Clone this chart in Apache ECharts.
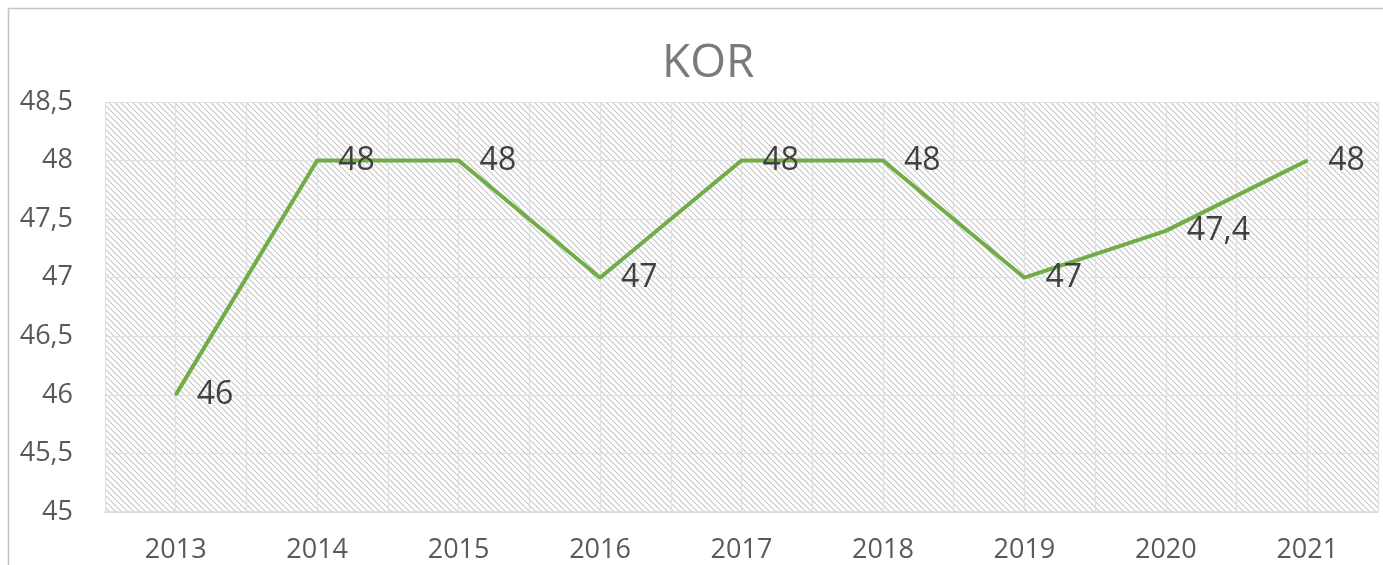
<!DOCTYPE html>
<html>
<head>
<meta charset="utf-8">
<script src="https://cdn.jsdelivr.net/npm/echarts@6/dist/echarts.min.js"></script>
<style>
  html, body { margin: 0; padding: 0; background: #fff; }
  #chart { width: 1383px; height: 565px; }
</style>
</head>
<body>
<div id="chart"></div>
<script>
var years = ['2013', '2014', '2015', '2016', '2017', '2018', '2019', '2020', '2021'];
var korValues = [46, 48, 48, 47, 48, 48, 47, 47.4, 48];
var yTicks = [45, 45.5, 46, 46.5, 47, 47.5, 48, 48.5];

var chart = echarts.init(document.getElementById('chart'));

// diagonal hatch for the plot area
var makeHatch = function () {
	var c = document.createElement('canvas');
	c.width = 6; c.height = 6;
	var ctx = c.getContext('2d');
	ctx.fillStyle = '#ffffff';
	ctx.fillRect(0, 0, 6, 6);
	ctx.strokeStyle = '#c6c6c6';
	ctx.lineWidth = 1.1;
	ctx.beginPath();
	ctx.moveTo(-1, -1); ctx.lineTo(7, 7);
	ctx.moveTo(-1, 5); ctx.lineTo(1, 7);
	ctx.moveTo(5, -1); ctx.lineTo(7, 1);
	ctx.stroke();
	return c;
};

var comma = function (v) { return String(v).replace('.', ','); };

var option = {
	animation: false,
	backgroundColor: '#ffffff',
	title: {
		text: 'KOR',
		left: 657,
		top: 36,
		textStyle: {
			fontFamily: 'Open Sans',
			fontSize: 46,
			fontWeight: 'normal',
			color: '#7a7a7a'
		}
	},
	graphic: [
		{
			type: 'rect',
			shape: { x: 8.5, y: 8.5, width: 1400, height: 600 },
			style: { fill: 'none', stroke: '#c4c4c4', lineWidth: 1.5 },
			silent: true
		}
	],
	grid: {
		left: 105,
		right: 5,
		top: 102,
		bottom: 53,
		show: true,
		borderWidth: 0,
		backgroundColor: { image: makeHatch(), repeat: 'repeat' }
	},
	xAxis: [
		{
			type: 'category',
			data: years,
			boundaryGap: true,
			axisLine: { show: true, lineStyle: { color: '#d9d9d9', width: 1.5 } },
			axisTick: { show: false },
			splitLine: { show: false },
			axisLabel: {
				margin: 25,
				fontFamily: 'Open Sans',
				fontSize: 27,
				color: '#595959'
			}
		},
		{
			type: 'value',
			min: 0,
			max: years.length * 2,
			interval: 1,
			position: 'bottom',
			show: true,
			axisLine: { show: false },
			axisTick: { show: false },
			axisLabel: { show: false },
			splitLine: { show: true, lineStyle: { color: '#e0e0e0', width: 1.2 } }
		}
	],
	yAxis: {
		type: 'value',
		min: 45,
		max: 48.5,
		interval: 0.5,
		axisLine: { show: false },
		axisTick: { show: false },
		splitLine: { show: true, lineStyle: { color: '#e0e0e0', width: 1.2 } },
		axisLabel: {
			margin: 32,
			fontFamily: 'Open Sans',
			fontSize: 27,
			color: '#595959',
			customValues: yTicks,
			formatter: function (v) { return comma(v); }
		}
	},
	series: [
		{
			name: 'KOR',
			type: 'line',
			xAxisIndex: 0,
			data: korValues,
			symbol: 'circle',
			symbolSize: 2,
			showSymbol: true,
			showAllSymbol: true,
			lineStyle: { color: '#70ad47', width: 4 },
			itemStyle: { color: '#70ad47' },
			label: {
				show: true,
				position: 'right',
				distance: 20,
				fontFamily: 'Open Sans',
				fontSize: 32,
				color: '#404040',
				formatter: function (p) { return comma(p.value); }
			},
			labelLayout: { hideOverlap: false }
		}
	]
};
chart.setOption(option);
</script>
</body>
</html>
